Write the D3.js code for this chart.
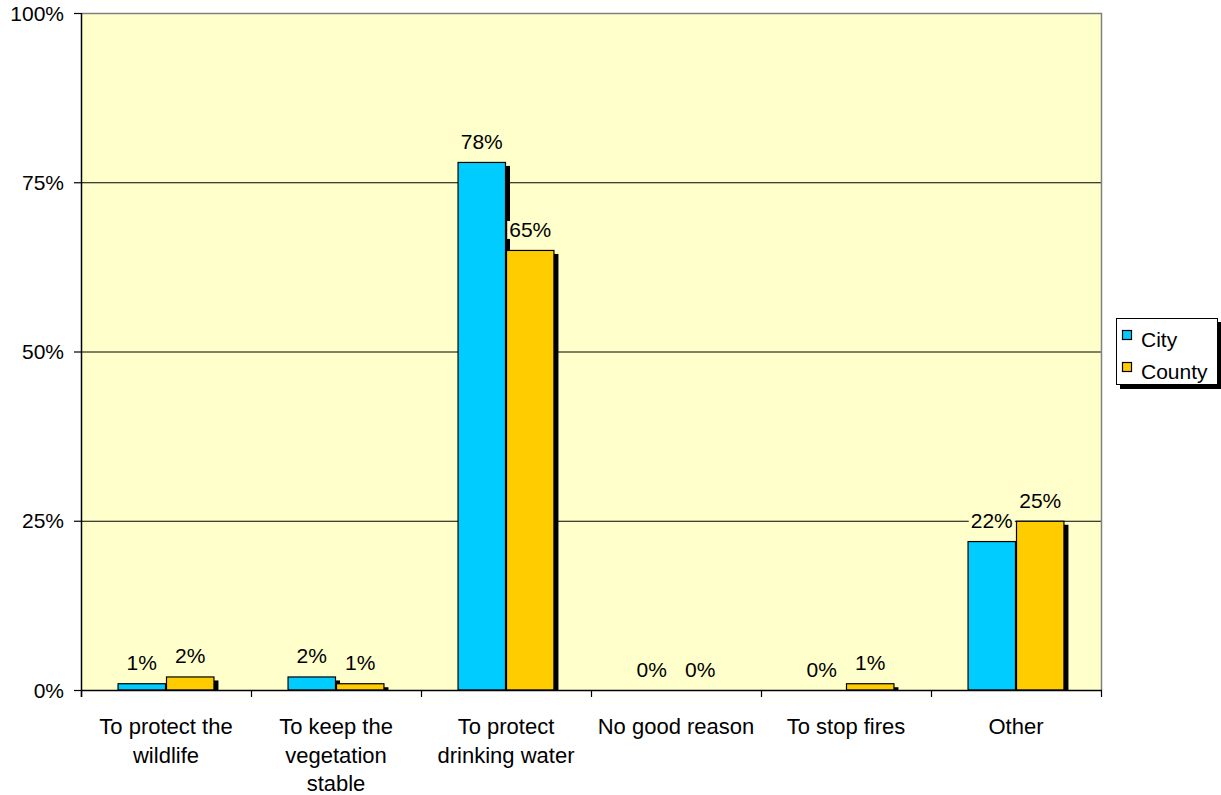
<!DOCTYPE html>
<html><head><meta charset="utf-8">
<script src="https://cdn.jsdelivr.net/npm/d3@7"></script>
<style>
html,body{margin:0;padding:0;background:#fff;}
svg text{font-family:"Liberation Sans",Arial,sans-serif;font-size:21px;fill:#000;}
svg text.cat{font-size:22px;}
</style></head>
<body>
<svg id="chart" width="1221" height="795"></svg>
<script>
const categories = [
  ["To protect the","wildlife"],
  ["To keep the","vegetation","stable"],
  ["To protect","drinking water"],
  ["No good reason"],
  ["To stop fires"],
  ["Other"]
];
const seriesNames = ["City","County"];
const cityValues = [1, 2, 78, 0, 0, 22];
const countyValues = [2, 1, 65, 0, 1, 25];
const yTicks = [0, 25, 50, 75, 100];
const colors = ["#00CCFF","#FFCC00"];

(function(){
const svg = d3.select("#chart");
const pL = 81, pR = 1101, pT = 13, pB = 690;

const x0 = d3.scaleBand().domain(d3.range(categories.length)).range([pL, pR]).paddingInner(0).paddingOuter(0);
const bw = x0.bandwidth();
const groupW = bw * 0.57;
const x1 = d3.scaleBand().domain([0,1]).range([(bw-groupW)/2, (bw+groupW)/2]);
const y = d3.scaleLinear().domain([0,100]).range([pB, pT]);

svg.append("rect").attr("x",pL).attr("y",pT).attr("width",pR-pL).attr("height",pB-pT).attr("fill","#FFFFCC");

svg.append("g").selectAll("line").data(yTicks.filter(d=>d>0 && d<100)).join("line")
  .attr("x1",pL).attr("x2",pR).attr("y1",d=>y(d)+0.5).attr("y2",d=>y(d)+0.5)
  .attr("stroke","#000").attr("stroke-width",1);

svg.append("path").attr("d",`M${pL},${pT+0.5}H${pR+0.5}V${pB}`).attr("fill","none").attr("stroke","#808080").attr("stroke-width",1.5);

const data = [];
categories.forEach((c,i)=>{
  [cityValues[i], countyValues[i]].forEach((v,s)=>data.push({i,s,v}));
});
const bars = svg.append("g");
const barData = data.filter(d=>d.v>0);
bars.selectAll("rect.sh").data(barData).join("rect").attr("class","sh")
  .attr("x",d=>x0(d.i)+x1(d.s)+4).attr("y",d=>y(d.v)+4)
  .attr("width",x1.bandwidth()).attr("height",d=>Math.max(0,pB-y(d.v)-4))
  .attr("fill","#000");
bars.selectAll("rect.b").data(barData).join("rect").attr("class","b")
  .attr("x",d=>x0(d.i)+x1(d.s)+0.5).attr("y",d=>y(d.v)+0.5)
  .attr("width",x1.bandwidth()-1).attr("height",d=>pB-y(d.v)-0.5)
  .attr("fill",d=>colors[d.s]).attr("stroke","#000").attr("stroke-width",1.2);

const lab = svg.append("g");
data.forEach(d=>{
  const cx = x0(d.i)+x1(d.s)+x1.bandwidth()/2;
  const by = y(d.v)-13;
  const g = lab.append("g");
  const t = g.append("text").attr("x",cx).attr("y",by).attr("text-anchor","middle").text(d.v+"%");
  const bb = t.node().getBBox();
  g.insert("rect","text").attr("x",bb.x-2).attr("y",bb.y+3).attr("width",bb.width+4).attr("height",bb.height-5).attr("fill","#FFFFCC");
});

svg.append("line").attr("x1",pL+0.5).attr("x2",pL+0.5).attr("y1",pT).attr("y2",pB+7).attr("stroke","#000").attr("stroke-width",1.5);
svg.append("line").attr("x1",pL).attr("x2",pR+1).attr("y1",pB+0.5).attr("y2",pB+0.5).attr("stroke","#000").attr("stroke-width",1.5);

const yg = svg.append("g");
yTicks.forEach(t=>{
  yg.append("line").attr("x1",pL-7).attr("x2",pL).attr("y1",y(t)+0.5).attr("y2",y(t)+0.5).attr("stroke","#000").attr("stroke-width",1.2);
  yg.append("text").attr("x",64).attr("y",y(t)+7.5).attr("text-anchor","end").text(t+"%");
});

const xg = svg.append("g");
d3.range(categories.length+1).forEach(i=>{
  const xx = pL + i*bw;
  xg.append("line").attr("x1",xx+0.5).attr("x2",xx+0.5).attr("y1",pB).attr("y2",pB+7).attr("stroke","#000").attr("stroke-width",1.2);
});
categories.forEach((lines,i)=>{
  const t = xg.append("text").attr("class","cat").attr("text-anchor","middle");
  lines.forEach((ln,k)=>{
    t.append("tspan").attr("x",x0(i)+bw/2).attr("y",734+k*28.5).text(ln);
  });
});

const lg = svg.append("g");
lg.append("rect").attr("x",1120).attr("y",322).attr("width",102).attr("height",67).attr("fill","#000");
lg.append("rect").attr("x",1116.5).attr("y",318.5).attr("width",101).attr("height",66).attr("fill","#fff").attr("stroke","#000").attr("stroke-width",1);
seriesNames.forEach((n,s)=>{
  lg.append("rect").attr("x",1122.5).attr("y",330.5+s*32).attr("width",9).attr("height",9).attr("fill",colors[s]).attr("stroke","#000").attr("stroke-width",1.2);
  lg.append("text").attr("x",1141).attr("y",346.5+s*32).text(n);
});
})();
</script>
</body></html>
